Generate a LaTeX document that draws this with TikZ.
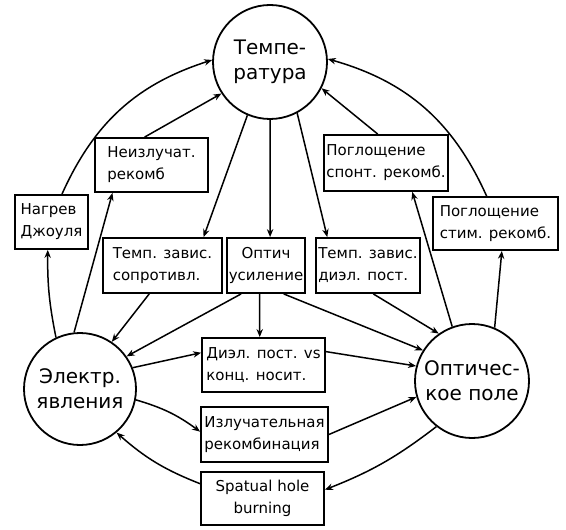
\documentclass[tikz,border=0pt]{standalone}
\usepackage{fontspec}
\setmainfont{DejaVu Sans}
\usetikzlibrary{arrows.meta,calc}
\tikzset{
  bx/.style={draw, line width=0.9pt, inner sep=1pt, font=\fontsize{7.5}{11}\selectfont, align=left},
  cr/.style={draw, circle, line width=0.9pt, inner sep=0pt, font=\fontsize{10}{12.5}\selectfont, align=center},
  ar/.style={line width=0.75pt, -{Stealth[length=4pt,width=3.2pt]}}
}
\begin{document}
\begin{tikzpicture}[x=0.5pt,y=-0.5pt]
\useasboundingbox[fill=white] (0,0) rectangle (566,529);
% circles
\node[cr, minimum size=57pt] (T) at (270,62) {Темпе-\\ратура};
\node[cr, minimum size=56pt] (E) at (80,389) {Электр.\\явления};
\node[cr, minimum size=57pt] (Opt) at (472,381) {Оптичес-\\кое поле};
% boxes
\node[bx, minimum width=56.5pt, minimum height=27pt] (nz) at (151.5,165) {Неизлучат.\\рекомб};
\node[bx, minimum width=36.5pt, minimum height=27pt] (nag) at (51.5,222) {Нагрев\\Джоуля};
\node[bx, minimum width=59.5pt, minimum height=27.5pt] (ts) at (162.5,265.5) {Темп. завис.\\сопротивл.};
\node[bx, align=center, minimum width=39pt, minimum height=27.5pt] (ou) at (266,265.5) {Оптич\\усиление};
\node[bx, minimum width=52pt, minimum height=27.5pt] (td) at (368,265.5) {Темп. завис.\\диэл. пост.};
\node[bx, minimum width=61pt, minimum height=28pt] (ps) at (386,163) {Поглощение\\спонт. рекомб.};
\node[bx, minimum width=62.5pt, minimum height=26.5pt] (pst) at (495.5,223.5) {Поглощение\\стим. рекомб.};
\node[bx, minimum width=61.5pt, minimum height=27pt] (dv) at (263.5,365) {Диэл. пост. vs\\конц. носит.};
\node[bx, minimum width=63.5pt, minimum height=27.5pt] (iz) at (264.5,434.5) {Излучательная\\рекомбинация};
\node[bx, align=center, minimum width=61.5pt, minimum height=26.5pt] (sp) at (262.5,498.5) {Spatual hole\\burning};
% connectors
\draw[ar] ($(nag.north west)!0.64!(nag.north east)$) to[bend left=24] (T.178);
\draw[ar] (E.115) to[bend left=6] ($(nag.south west)!0.45!(nag.south east)$);
\draw[ar] (E.96) -- ($(nz.south west)!0.16!(nz.south east)$);
\draw[ar] ($(nz.north west)!0.44!(nz.north east)$) -- (T.213);
\draw[ar] (T.247) -- ($(ts.north west)!0.84!(ts.north east)$);
\draw[ar] (T.270) -- ($(ou.north west)!0.551!(ou.north east)$);
\draw[ar] (T.298) -- ($(td.north west)!0.115!(td.north east)$);
\draw[ar] ($(ps.north west)!0.434!(ps.north east)$) -- (T.333);
\draw[ar] ($(pst.north west)!0.43!(pst.north east)$) to[bend right=25] (T.3);
\draw[ar] (Opt.110) -- ($(ps.south west)!0.71!(ps.south east)$);
\draw[ar] (Opt.67) -- ($(pst.south west)!0.55!(pst.south east)$);
\draw[ar] ($(ts.south west)!0.39!(ts.south east)$) -- (E.56);
\draw[ar] ($(ou.south west)!0.19!(ou.south east)$) -- (E.35);
\draw[ar] ($(ou.south west)!0.42!(ou.south east)$) -- ($(dv.north west)!0.47!(dv.north east)$);
\draw[ar] ($(ou.south west)!0.72!(ou.south east)$) -- (Opt.148);
\draw[ar] ($(td.south west)!0.55!(td.south east)$) -- (Opt.125);
\draw[ar] (E.22) -- ($(dv.north west)!0.28!(dv.south west)$);
\draw[ar] ($(dv.north east)!0.26!(dv.south east)$) -- (Opt.165);
\draw[ar] (E.349) to[bend left=10] ($(iz.north west)!0.45!(iz.south west)$);
\draw[ar] ($(iz.north east)!0.5!(iz.south east)$) -- (Opt.196);
\draw[ar] (Opt.232) to[bend left=8] ($(sp.north east)!0.34!(sp.south east)$);
\draw[ar] ($(sp.north west)!0.23!(sp.south west)$) to[bend left=10] (E.310);
\end{tikzpicture}
\end{document}
